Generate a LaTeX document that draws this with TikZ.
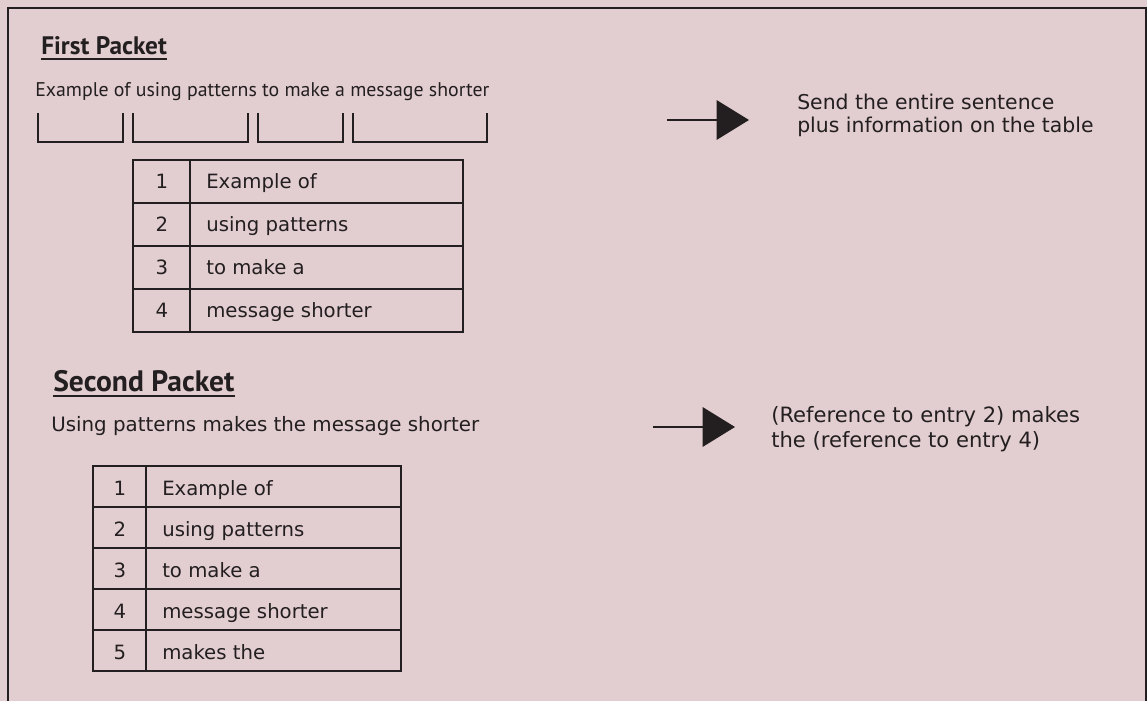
\documentclass[tikz,border=0pt]{standalone}
\usepackage{fontspec}
\setmainfont{DejaVu Sans}
\newfontfamily\headfont{PT Sans}
\usetikzlibrary{arrows.meta}
\definecolor{bgpink}{HTML}{E2CDD0}
\definecolor{ink}{HTML}{231F20}
\tikzset{
  plain/.style={inner sep=0pt, anchor=base west, text=ink},
  title/.style={plain, font=\headfont\bfseries},
  sent/.style={plain},
  note/.style={plain, align=left},
  grid/.style={draw=ink, line width=1.6pt},
  num/.style={inner sep=0pt, anchor=base, text=ink, font=\fontsize{14}{16}\selectfont},
  entry/.style={plain, font=\fontsize{14}{16}\selectfont},
  bigarrow/.style={draw=ink, line width=1.5pt, -{Triangle[length=23pt,width=28pt]}}
}
\begin{document}
\begin{tikzpicture}[x=0.025cm,y=-0.025cm]
\fill[bgpink] (0,0) rectangle (1147,701);
\useasboundingbox (0,0) rectangle (1147,701);
\draw[ink, line width=2pt] (8,701) -- (8,8) -- (1146,8) -- (1146,701);

\node[title, font=\headfont\bfseries\fontsize{18}{20}\selectfont] (Title1) at (41,55) {First Packet};
\draw[ink, line width=1.6pt] ([yshift=-3pt]Title1.base west) -- ([yshift=-3pt]Title1.base east);
\node[sent, font=\headfont\fontsize{14.1}{16}\selectfont] (Sent1) at (35,97) {Example of using patterns to make a message shorter};
\foreach \a/\b in {38/123,133/248,258/343,353/487}
  \draw[ink, line width=1.6pt] (\a,113) |- (\b,142) -- (\b,113);
\coordinate (Out1) at (667,120);
\coordinate (In1) at (749,120);
\draw[bigarrow] (Out1) -- (In1);
\node[note, font=\fontsize{14.5}{16.4}\selectfont] (Note1) at (797,133) {Send the entire sentence\\plus information on the table};
\foreach \n/\txt in {1/Example of,2/using patterns,3/to make a,4/message shorter}{
  \draw[grid] (133,117+43*\n) rectangle (190,160+43*\n);
  \draw[grid] (190,117+43*\n) rectangle (463,160+43*\n);
  \node[num] (NumA\n) at (162,146+43*\n) {\n};
  \node[entry] (RowA\n) at (206,146+43*\n) {\txt};
}

\node[title, font=\headfont\bfseries\fontsize{21}{24}\selectfont] (Title2) at (53,392) {Second Packet};
\draw[ink, line width=1.6pt] ([yshift=-3pt]Title2.base west) -- ([yshift=-3pt]Title2.base east);
\node[sent, font=\fontsize{14.1}{16}\selectfont] (Sent2) at (51,432) {Using patterns makes the message shorter};
\coordinate (Out2) at (653,427);
\coordinate (In2) at (735,427);
\draw[bigarrow] (Out2) -- (In2);
\node[note, font=\fontsize{15}{17.8}\selectfont] (Note2) at (771,448) {(Reference to entry 2) makes\\the (reference to entry 4)};
\foreach \n/\txt in {1/Example of,2/using patterns,3/to make a,4/message shorter,5/makes the}{
  \draw[grid] (93,425+41*\n) rectangle (146,466+41*\n);
  \draw[grid] (146,425+41*\n) rectangle (401,466+41*\n);
  \node[num] (NumB\n) at (120,455+41*\n) {\n};
  \node[entry] (RowB\n) at (162,455+41*\n) {\txt};
}
\end{tikzpicture}
\end{document}
